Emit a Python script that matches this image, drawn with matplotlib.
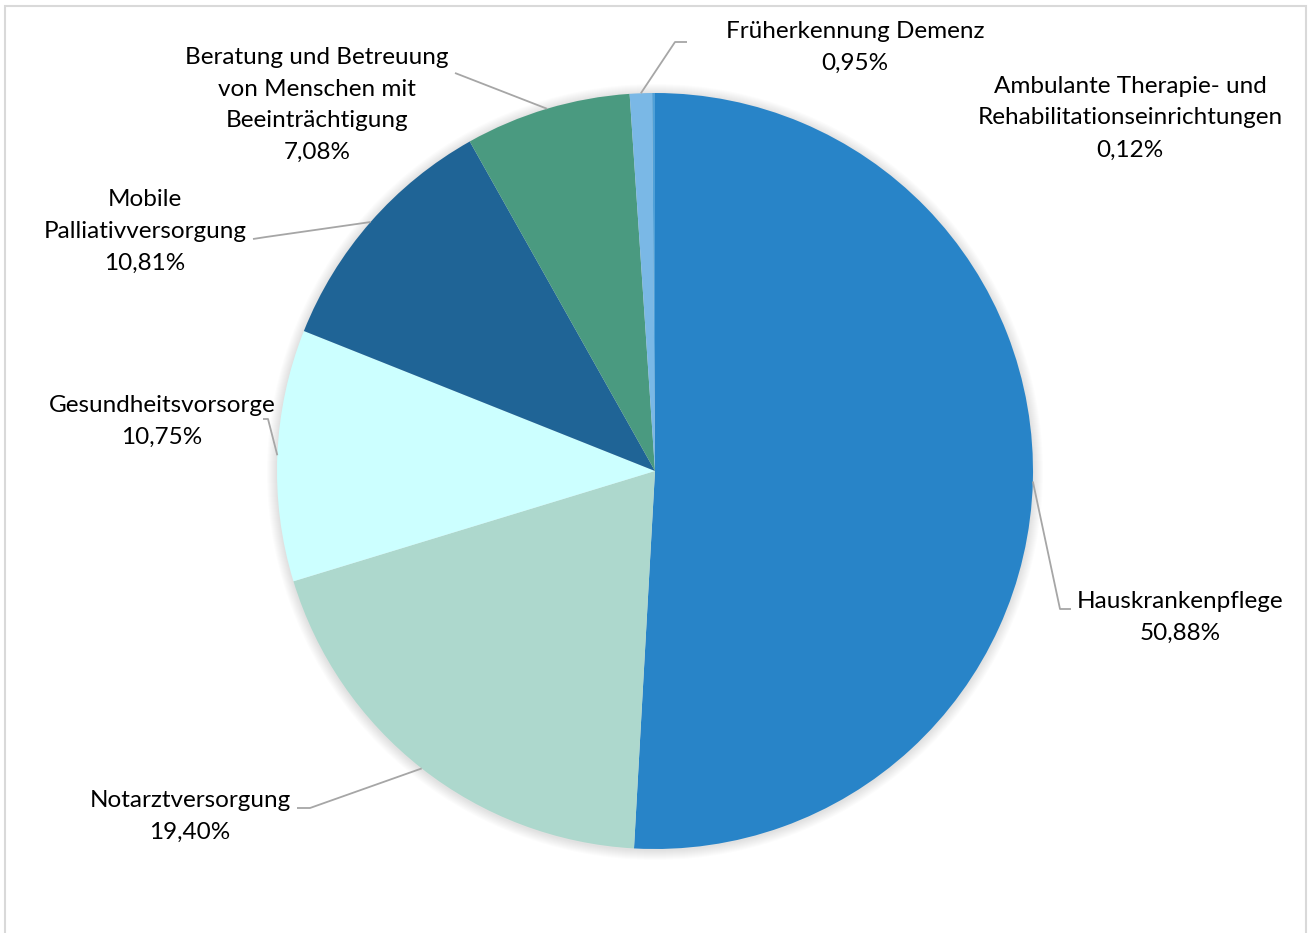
import matplotlib.pyplot as plt
import numpy as np
from matplotlib.patches import Rectangle, Circle

plt.rcParams['font.family'] = ['Lato', 'DejaVu Sans']

# Shares of the health-service areas (percent)
categories = ["Hauskrankenpflege", "Notarztversorgung", "Gesundheitsvorsorge",
              "Mobile\nPalliativversorgung", "Beratung und Betreuung\nvon Menschen mit\nBeeinträchtigung",
              "Früherkennung Demenz", "Ambulante Therapie- und\nRehabilitationseinrichtungen"]
shares = [50.88, 19.40, 10.75, 10.81, 7.08, 0.95, 0.12]
colors = ["#2884C8", "#ADD8CD", "#CCFFFF", "#1F6496", "#4A9A80", "#7AB8E6", "#4FA0D8"]

W, H = 1311, 933
fig = plt.figure(figsize=(W / 100, H / 100), dpi=100)
ax = fig.add_axes([0, 0, 1, 1])

cx, cy, r = 655, H - 471, 378

# soft glow behind the pie
for i in range(10):
    ax.add_patch(Circle((cx, cy - 1), r + 1 + i * 1.0, color="black", alpha=0.012, lw=0, zorder=0))

wedges, _ = ax.pie(shares, colors=colors, startangle=90, counterclock=False,
                   radius=r, center=(cx, cy), frame=True,
                   wedgeprops=dict(linewidth=0, zorder=2))
ax.set_xlim(0, W)
ax.set_ylim(0, H)
ax.axis("off")

# label text position (center) and leader elbow in image pixels (y downward)
label_pos = [(1180, 617), (190, 816), (162, 421), (145, 231), (317, 105), (855, 47), (1130, 118)]
elbows = [[(1071, 609), (1060, 609)],
          [(297, 808), (310, 808)],
          [(263, 419), (268, 419)],
          [(253, 239), (266, 237)],
          [(455, 73)],
          [(687, 42), (675, 42)],
          None]

lead_color = "#A6A6A6"
for w, name, val, (tx, ty), elb in zip(wedges, categories, shares, label_pos, elbows):
    txt = f"{name}\n{val:.2f}%".replace(".", ",")
    ax.text(tx, H - ty, txt, ha="center", va="center", fontsize=17.5,
            linespacing=1.64, color="black", zorder=5)
    if elb is None:
        continue
    mid = np.deg2rad((w.theta1 + w.theta2) / 2)
    ex, ey = cx + r * np.cos(mid), cy + r * np.sin(mid)
    xs = [p[0] for p in elb] + [ex]
    ys = [H - p[1] for p in elb] + [ey]
    ax.plot(xs, ys, color=lead_color, lw=1.3, zorder=3, solid_capstyle="butt")

# chart frame
fig.patches.append(Rectangle((5 / W, -0.05), 1301 / W, 1.05 - 6 / H,
                             transform=fig.transFigure, fill=False,
                             edgecolor="#D9D9D9", lw=1.5))

fig.savefig("out.png", dpi=100)
